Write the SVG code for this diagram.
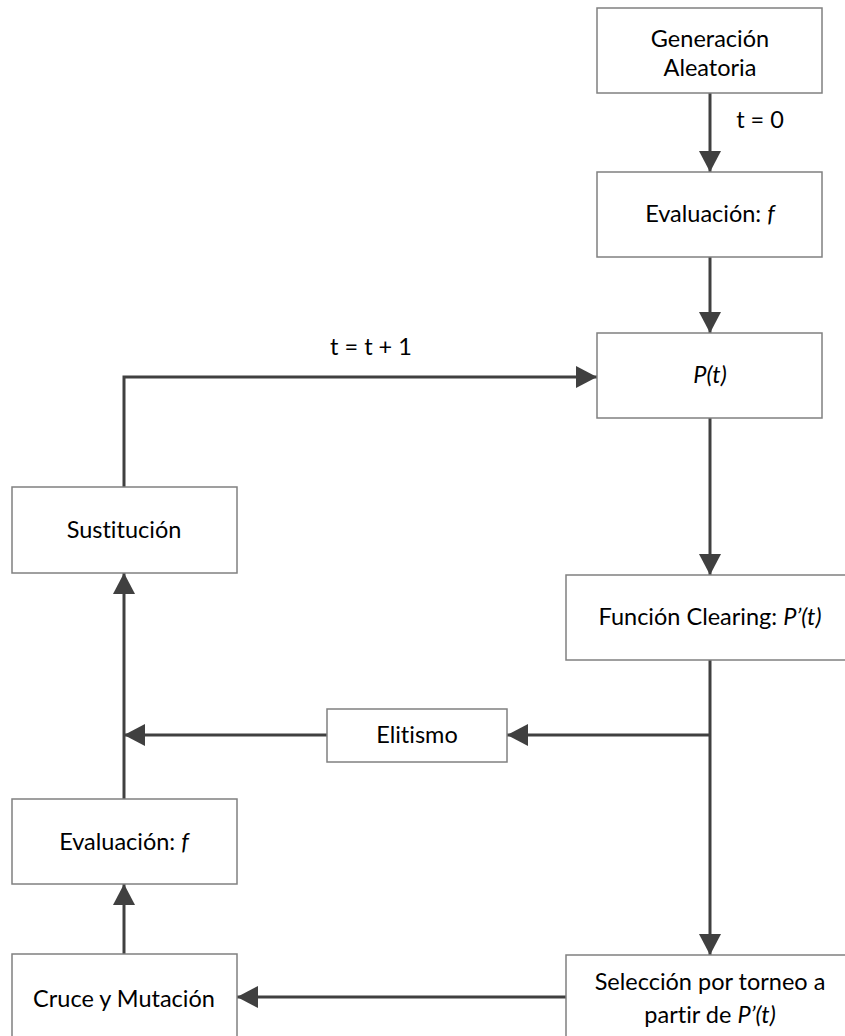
<svg xmlns="http://www.w3.org/2000/svg" width="845" height="1036" viewBox="0 0 845 1036">
  <style>
    .box { fill: #ffffff; stroke: #808080; stroke-width: 1.5; }
    .lbl { font-family: Lato, "Open Sans", "Liberation Sans", sans-serif; font-size: 23.5px; fill: #000000; text-anchor: middle; font-variant-ligatures: none; font-feature-settings: "liga" 0, "dlig" 0; }
    .it { font-style: italic; }
    .edge { fill: none; stroke: #404040; stroke-width: 3; }
  </style>
  <defs>
    <marker id="arrow" viewBox="0 0 21 22" refX="21" refY="11" markerWidth="21" markerHeight="22" markerUnits="userSpaceOnUse" orient="auto">
      <path d="M0,0 L21,11 L0,22 Z" fill="#404040"/>
    </marker>
  </defs>
  <rect width="845" height="1036" fill="#ffffff"/>

  <g id="connectors">
    <path class="edge" d="M710,93 V172" marker-end="url(#arrow)"/>
    <path class="edge" d="M710,257 V333" marker-end="url(#arrow)"/>
    <path class="edge" d="M710,418 V575" marker-end="url(#arrow)"/>
    <path class="edge" d="M710,660 V955" marker-end="url(#arrow)"/>
    <path class="edge" d="M710,735 H507" marker-end="url(#arrow)"/>
    <path class="edge" d="M327,735 H124" marker-end="url(#arrow)"/>
    <path class="edge" d="M566,997 H237" marker-end="url(#arrow)"/>
    <path class="edge" d="M124,954 V884" marker-end="url(#arrow)"/>
    <path class="edge" d="M124,799 V573" marker-end="url(#arrow)"/>
    <path class="edge" d="M124,487 V377 H597" marker-end="url(#arrow)"/>
    <text class="lbl" x="760" y="128">t = 0</text>
    <text class="lbl" x="371" y="355">t = t + 1</text>
  </g>

  <g id="generacion">
    <rect class="box" x="597" y="8" width="225" height="85"/>
    <text class="lbl" x="710" y="47">Generación</text>
    <text class="lbl" x="710" y="76">Aleatoria</text>
  </g>

  <g id="evaluacion-inicial">
    <rect class="box" x="597" y="172" width="225" height="85"/>
    <text class="lbl" x="710" y="222">Evaluación: <tspan class="it">f</tspan></text>
  </g>

  <g id="poblacion">
    <rect class="box" x="597" y="333" width="225" height="85"/>
    <text class="lbl it" x="710" y="383">P(t)</text>
  </g>

  <g id="clearing">
    <rect class="box" x="566" y="575" width="288" height="85"/>
    <text class="lbl" x="710" y="625">Función Clearing: <tspan class="it">P’(t)</tspan></text>
  </g>

  <g id="elitismo">
    <rect class="box" x="327" y="709" width="180" height="53"/>
    <text class="lbl" x="417" y="743">Elitismo</text>
  </g>

  <g id="seleccion">
    <rect class="box" x="566" y="955" width="288" height="85"/>
    <text class="lbl" x="710" y="990">Selección por torneo a</text>
    <text class="lbl" x="710" y="1023">partir de <tspan class="it">P’(t)</tspan></text>
  </g>

  <g id="cruce">
    <rect class="box" x="12" y="954" width="225" height="86"/>
    <text class="lbl" x="124" y="1007">Cruce y Mutación</text>
  </g>

  <g id="evaluacion-hijos">
    <rect class="box" x="12" y="799" width="225" height="85"/>
    <text class="lbl" x="124" y="850">Evaluación: <tspan class="it">f</tspan></text>
  </g>

  <g id="sustitucion">
    <rect class="box" x="12" y="487" width="225" height="86"/>
    <text class="lbl" x="124" y="538">Sustitución</text>
  </g>
</svg>
